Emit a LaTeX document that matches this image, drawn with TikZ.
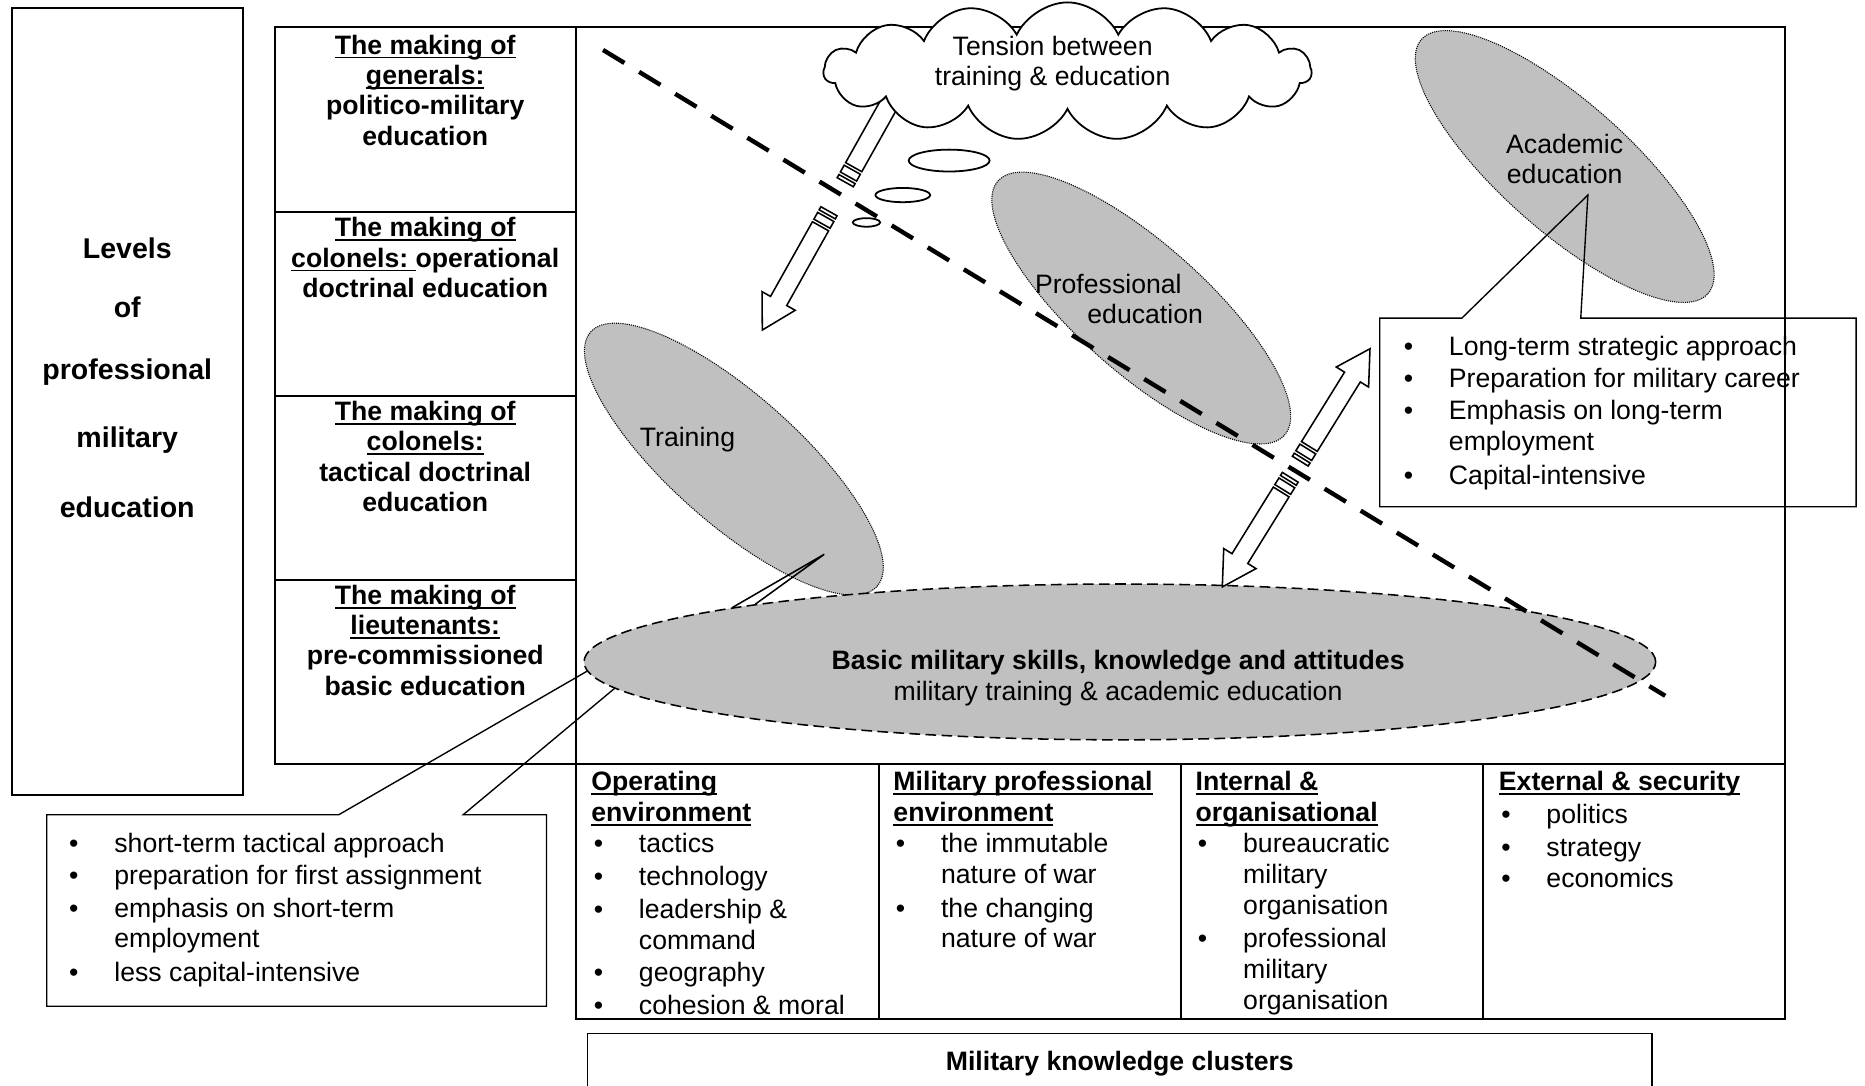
\documentclass[tikz,border=0pt]{standalone}
\usepackage{fontspec}
\setmainfont{Liberation Sans}
\usetikzlibrary{shapes.geometric,shapes.symbols}
\definecolor{blobgray}{HTML}{C0C0C0}

% underlined text with a fixed rule position
\newcommand\ulin[1]{\setbox0\hbox{#1}\rlap{\rule[-3.6pt]{\wd0}{1.5pt}}\box0}
% blocks of lines whose anchor "base" is the first baseline
\newcommand\txtl[1]{\begin{tabular}[t]{@{}l@{}l@{}}#1\end{tabular}}
\newcommand\txtc[1]{\begin{tabular}[t]{@{}c@{}}#1\end{tabular}}
\newcommand\bul{\makebox[40pt][l]{\hspace{2pt}•}}
\newcommand\hd[1]{\multicolumn{2}{@{}l@{}}{\bfseries\ulin{#1}}}

% striped block arrow: centre, direction, length, half gap at the tail
\newcommand\stripearrow[4]{%
  \begin{scope}[shift={#1}, rotate=#2]
    \draw[arrowline] ({#4},-7.8) rectangle ({#4+3},7.8);
    \draw[arrowline] ({#4+5.5},-7.8) rectangle ({#4+12},7.8);
    \draw[arrowline] ({#4+14.5},-7.8) -- ({#3-28},-7.8) -- ({#3-28},-16) -- (#3,0)
      -- ({#3-28},16) -- ({#3-28},7.8) -- ({#4+14.5},7.8) -- cycle;
  \end{scope}}

\begin{document}
\begin{tikzpicture}[x=1pt,y=-1pt,
  frame/.style={line width=1.7pt},
  thinframe/.style={line width=1.15pt},
  callout/.style={line width=1.15pt, line join=miter},
  pointer/.style={line width=1.3pt},
  blob/.style={ellipse, fill=blobgray, draw=black, line width=0.9pt,
    dash pattern=on 0.9pt off 0.9pt, inner sep=0pt,
    minimum width=322pt, minimum height=108pt, rotate=-41.6},
  basicblob/.style={ellipse, fill=blobgray, draw=black, line width=1.3pt,
    dash pattern=on 9pt off 4.5pt, inner sep=0pt,
    minimum width=901pt, minimum height=131pt},
  divide/.style={line width=3.7pt, dash pattern=on 21pt off 14.5pt},
  arrowline/.style={draw=black, fill=white, line width=1.3pt, line join=miter},
  bubble/.style={ellipse, draw=black, fill=white, line width=1.5pt, inner sep=0pt},
  txt/.style={inner sep=0pt, font=\fontsize{22.4}{#1}\selectfont},
  txt/.default=26,
  btxt/.style={inner sep=0pt, font=\fontsize{22.4}{#1}\selectfont\bfseries},
  btxt/.default=26
]
\useasboundingbox (0,0) rectangle (1568,913);
\clip (0,0) rectangle (1568,913);

% ---- frames and tables ----
\draw[frame] (10,7) rectangle (204,668);
\draw[frame] (231,23) rectangle (1501,642);
\draw[frame] (484,23) -- (484,857) -- (1501,857) -- (1501,642);
\draw[frame] (231,178) -- (484,178) (231,333) -- (484,333) (231,488) -- (484,488);
\draw[frame] (739,642) -- (739,857) (993,642) -- (993,857) (1247,642) -- (1247,857);
\draw[thinframe] (494,935) -- (494,869) -- (1389,869) -- (1389,935);

% ---- levels ----
\node[inner sep=0pt, anchor=base, font=\fontsize{24}{50}\selectfont\bfseries] (levels) at (107,217)
  {\txtc{Levels\\ of\\[2pt] professional\\[7pt] military\\[9pt] education}};

\node[btxt=25.5, anchor=base] (rowGen) at (357.5,45.5)
  {\txtc{\ulin{The making of}\\ \ulin{generals:}\\ politico-military\\ education}};
\node[btxt=25.5, anchor=base] (rowOpCol) at (357.5,199)
  {\txtc{\ulin{The making of}\\ \ulin{colonels:\ }operational\\ doctrinal education}};
\node[btxt=25.5, anchor=base] (rowTacCol) at (357.5,353.5)
  {\txtc{\ulin{The making of}\\ \ulin{colonels:}\\ tactical doctrinal\\ education}};
\node[btxt=25.5, anchor=base] (rowLt) at (357.5,508)
  {\txtc{\ulin{The making of}\\ \ulin{lieutenants:}\\ pre-commissioned\\ basic education}};

% ---- knowledge clusters ----
\node[txt, anchor=base west] (colOper) at (497,665)
  {\txtl{\hd{Operating}\\ \hd{environment}\\ \bul & tactics\\[1.5pt] \bul & technology\\[1.5pt]
   \bul & leadership \&\\ & command\\[1.5pt] \bul & geography\\[1.5pt] \bul & cohesion \& moral}};
\node[txt, anchor=base west] (colProf) at (751,665)
  {\txtl{\hd{Military professional}\\ \hd{environment}\\ \bul & the immutable\\ & nature of war\\[2pt]
   \bul & the changing\\ & nature of war}};
\node[txt, anchor=base west] (colInt) at (1005,665)
  {\txtl{\hd{Internal \&}\\ \hd{organisational}\\ \bul & bureaucratic\\ & military\\ & organisation\\[2pt]
   \bul & professional\\ & military\\ & organisation}};
\node[txt, anchor=base west] (colExt) at (1260,665)
  {\txtl{\hd{External \& security}\\[1pt] \bul & politics\\[2pt] \bul & strategy\\ \bul & economics}};
\node[btxt, anchor=base] (clusters) at (941.5,900) {Military knowledge clusters};

% ---- education ellipses ----
\node[blob] (train) at (617,386) {};
\node[blob] (prof) at (959.5,259) {};
\node[blob] (acad) at (1315.5,140) {};
\node[txt, anchor=base] (trainT) at (578,375.6) {Training};
\node[txt=25.5, anchor=base west] (profT) at (870,246.5) {\txtl{Professional\\ \hspace*{44pt}education}};
\node[txt=25, anchor=base] (acadT) at (1315.5,129) {\txtc{Academic\\ education}};

\node[basicblob] (basic) at (941.5,556.5) {};
\node[txt, anchor=base] (basicT) at (940,563)
  {\txtc{\textbf{Basic military skills, knowledge and attitudes}\\ military training \& academic education}};

% pointer from the basic ellipse into training
\coordinate (trainTip) at (693,466);
\draw[pointer] (basic.172.7) -- (trainTip) -- (basic.171.2);

% ---- training / education divide ----
\coordinate (dA) at (507,42);
\coordinate (dB) at (1400,585);
\draw[divide] (dA) -- (dB);

% ---- striped arrows across the divide ----
\stripearrow{(703.8,165.4)}{240.7}{128.5}{14}
\stripearrow{(703.8,165.4)}{60.7}{125}{14}
\stripearrow{(1089,394.5)}{58.2}{119.2}{8}
\stripearrow{(1089,394.5)}{238.2}{116.4}{8}

% ---- thought cloud ----
\node[bubble, minimum width=68pt, minimum height=18.4pt] (b1) at (798,135) {};
\node[bubble, minimum width=46pt, minimum height=12pt] (b2) at (759,164) {};
\node[bubble, minimum width=23pt, minimum height=7.2pt] (b3) at (728.5,187) {};
\node[cloud, cloud puffs=15, cloud puff arc=130, cloud ignores aspect, draw=black, fill=white,
  line width=1.5pt, inner sep=0pt, minimum width=410pt, minimum height=116pt] (cloud) at (897.5,60) {};
\node[txt=25.5, anchor=base] (cloudT) at (885,46.5) {\txtc{Tension between\\ training \& education}};

% ---- callouts ----
\coordinate (rTip) at (1335,164);
\draw[callout] (rTip) -- (1229,267.5) -- (1160,267.5) -- (1160,426) -- (1560.5,426)
  -- (1560.5,267.5) -- (1329,267.5) -- cycle;
\node[txt, anchor=base west] (rList) at (1178,299)
  {\txtl{\bul & Long-term strategic approach\\[1pt] \bul & Preparation for military career\\[1pt]
   \bul & Emphasis on long-term\\ & employment\\[2pt] \bul & Capital-intensive}};

\draw[callout] (basic.181.8) -- (284.8,685) -- (39.3,685) -- (39.3,846) -- (459.5,846)
  -- (459.5,685) -- (389.4,685) -- (basic.183.6);
\node[txt, anchor=base west] (lList) at (56,717)
  {\txtl{\bul & short-term tactical approach\\[1pt] \bul & preparation for first assignment\\[1pt]
   \bul & emphasis on short-term\\ & employment\\[2pt] \bul & less capital-intensive}};
\end{tikzpicture}
\end{document}
